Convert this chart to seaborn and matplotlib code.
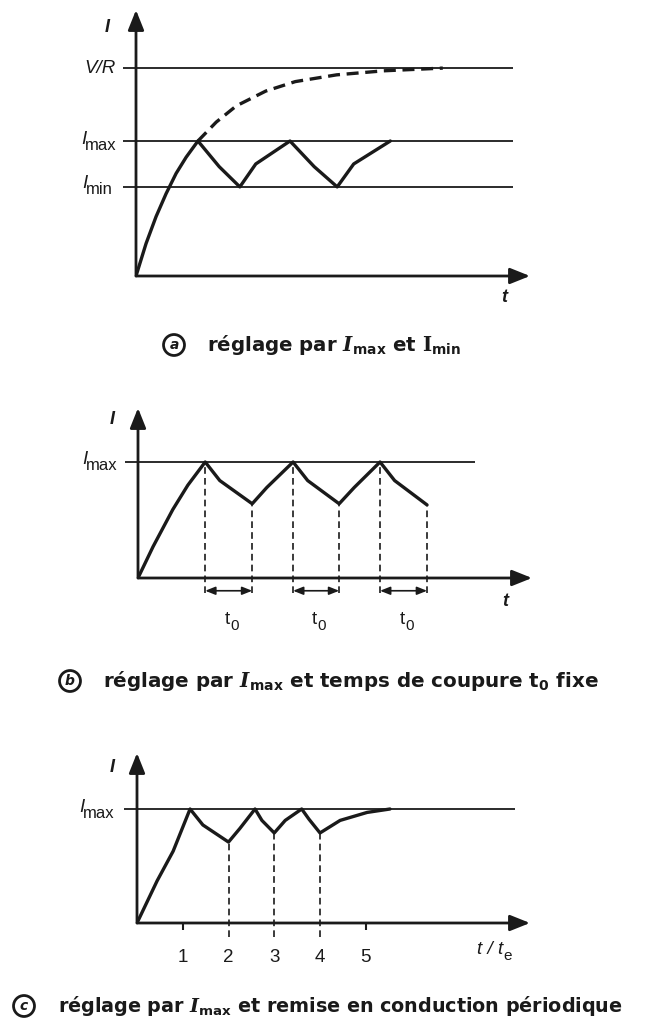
import matplotlib
matplotlib.use("Agg")
import matplotlib.pyplot as plt
import pandas as pd
import seaborn as sns

sns.set_theme(style="white")
plt.rcParams["font.family"] = ["Liberation Sans", "DejaVu Sans"]
plt.rcParams.update({
    "mathtext.fontset": "custom",
    "mathtext.rm": "DejaVu Sans:bold",
    "mathtext.bf": "DejaVu Sans:bold",
    "mathtext.it": "DejaVu Serif:italic:bold",
    "mathtext.tt": "DejaVu Serif:bold",
})
try:
    plt.rcParams["mathtext.bfit"] = "DejaVu Serif:italic:bold"
    BFIT = r"\mathbfit"
except KeyError:
    BFIT = r"\mathit"

INK = "#1a1a1a"
REF = "#2b2b2b"

# ---------------- data ----------------
# (a) hysteresis control between I_max and I_min (time in units of tau, current in units of I_max)
a_t = [0, 0.17, 0.34, 0.51, 0.68, 0.85, 1.05, 1.41, 1.76, 2.03, 2.61, 3.02, 3.41, 3.69, 4.31]
a_i = [0, 0.24, 0.44, 0.61, 0.76, 0.88, 1.00, 0.81, 0.66, 0.83, 1.00, 0.81, 0.66, 0.83, 1.00]
a_free_t = [1.05, 1.36, 1.70, 2.20, 2.70, 3.40, 4.20, 5.20]
a_free_i = [1.00, 1.14, 1.26, 1.37, 1.44, 1.49, 1.52, 1.54]
a_levels = [1.54, 1.00, 0.66]

# (b) I_max with fixed off-time t0 (time in units of t0)
b_t = [0, 0.32, 0.74, 1.06, 1.43, 1.74, 2.43, 2.74, 3.30, 3.61, 4.28, 4.60, 5.15, 5.46, 6.15]
b_i = [0, 0.27, 0.59, 0.80, 1.00, 0.84, 0.64, 0.78, 1.00, 0.84, 0.64, 0.78, 1.00, 0.84, 0.63]
b_switch_t = [1.43, 2.43, 3.30, 4.28, 5.15, 6.15]
b_switch_i = [1.00, 0.64, 1.00, 0.64, 1.00, 0.63]
b_level = 1.00

# (c) I_max with periodic turn-on (time in units of te)
c_t = [0, 0.44, 0.79, 1.16, 1.44, 2.00, 2.25, 2.58, 2.73, 3.00, 3.24, 3.60, 3.76, 4.00, 4.44, 5.03, 5.53]
c_i = [0, 0.37, 0.63, 1.00, 0.86, 0.71, 0.83, 1.00, 0.90, 0.79, 0.90, 1.00, 0.91, 0.79, 0.90, 0.97, 1.00]
c_on_t = [2, 3, 4]
c_on_i = [0.71, 0.79, 0.79]
c_ticks = [1, 2, 3, 4, 5]
c_tick_labels = ["1", "2", "3", "4", "5"]
c_level = 1.00

W, H = 646, 1025
fig = plt.figure(figsize=(W / 100, H / 100), dpi=100)
fig.patch.set_facecolor("white")


def panel(x0, y0, x1, y1, xunit, yunit):
    """Axes whose origin sits at pixel (x0, y0) with arrow tips at x1 / y1."""
    ax = fig.add_axes([x0 / W, 1 - y0 / H, (x1 - x0) / W, (y0 - y1) / H])
    ax.set_xlim(0, (x1 - x0) / xunit)
    ax.set_ylim(0, (y0 - y1) / yunit)
    ax.axis("off")
    arrow = dict(arrowstyle="-|>,head_length=0.55,head_width=0.22", lw=2.0,
                 color=INK, shrinkA=0, shrinkB=0, mutation_scale=22)
    ax.annotate("", xy=(ax.get_xlim()[1], 0), xytext=(0, 0), arrowprops=arrow,
                annotation_clip=False)
    ax.annotate("", xy=(0, ax.get_ylim()[1]), xytext=(0, 0), arrowprops=arrow,
                annotation_clip=False)
    return ax


def curve(ax, t, i, **kw):
    df = pd.DataFrame({"t": t, "i": i})
    sns.lineplot(data=df, x="t", y="i", ax=ax, sort=False, estimator=None,
                 color=INK, lw=2.4, **kw)


def level_label(ax, level, sub, dx, dy=-4, size=13.5, subsize=12):
    s = ax.annotate(sub, xy=(0, level), xytext=(dx, dy), textcoords="offset pixels",
                    ha="right", va="center", fontsize=subsize, color=INK,
                    annotation_clip=False)
    ax.annotate("I", xy=(0, 0.5), xycoords=s, xytext=(1, 6),
                textcoords="offset pixels", ha="right", va="center",
                fontsize=size, style="italic", color=INK)


def axis_letter(ax, text, corner, dx, dy, size=13):
    xy = (0, ax.get_ylim()[1]) if corner == "y" else (ax.get_xlim()[1], 0)
    return ax.annotate(text, xy=xy, xytext=(dx, dy), textcoords="offset pixels",
                       ha="center", va="center", fontsize=size, style="italic",
                       weight="bold", color=INK, annotation_clip=False)


def sub_after(main, sub, size=11):
    main.axes.annotate(sub, xy=(1, 0.15), xycoords=main, xytext=(0.5, 0),
                       textcoords="offset pixels", ha="left", va="center",
                       fontsize=size, color=INK)


# ---------------- (a) ----------------
ax = panel(136, 276, 530, 10, 59, 135)
x_stub = -13 / 59
ax.hlines(a_levels, x_stub, 377 / 59, color=REF, lw=1.4, clip_on=False)
curve(ax, a_free_t, a_free_i, linestyle=(0, (3.6, 2.0)))
curve(ax, a_t, a_i)
ax.annotate("V/R", xy=(0, a_levels[0]), xytext=(-20, 0), textcoords="offset pixels",
            ha="right", va="center", fontsize=13.5, style="italic", color=INK,
            annotation_clip=False)
level_label(ax, a_levels[1], "max", -19, dy=-4)
level_label(ax, a_levels[2], "min", -23, dy=-3)
axis_letter(ax, "I", "y", -29, -17)
axis_letter(ax, "t", "x", -26, -22)

# ---------------- (b) ----------------
ax = panel(138, 578, 532, 408, 47, 116)
ax.hlines([b_level], -13 / 47, 337 / 47, color=REF, lw=1.4, clip_on=False)
ax.vlines(b_switch_t, -0.13, b_switch_i, color=INK, lw=1.2,
          linestyles=(0, (4, 2.5)), clip_on=False)
curve(ax, b_t, b_i)
for t_off, t_on in zip(b_switch_t[0::2], b_switch_t[1::2]):
    ax.annotate("", xy=(t_on, -0.11), xytext=(t_off, -0.11),
                arrowprops=dict(arrowstyle="<|-|>,head_length=0.5,head_width=0.2",
                                lw=1.2, color=INK, shrinkA=0, shrinkB=0,
                                mutation_scale=12),
                annotation_clip=False)
    m = ax.annotate("t", xy=((t_off + t_on) / 2, 0), xytext=(1, -42),
                    textcoords="offset pixels", ha="right", va="center",
                    fontsize=13.5, color=INK, annotation_clip=False)
    sub_after(m, "0")
level_label(ax, b_level, "max", -20, dy=-4)
axis_letter(ax, "I", "y", -26, -12)
axis_letter(ax, "t", "x", -27, -24)

# ---------------- (c) ----------------
ax = panel(137, 923, 530, 753, 45.75, 114)
ax.hlines([c_level], -13 / 45.75, 378 / 45.75, color=REF, lw=1.4, clip_on=False)
ax.vlines(c_on_t, -0.12, c_on_i, color=INK, lw=1.2,
          linestyles=(0, (4, 2.5)), clip_on=False)
ax.vlines([c_ticks[0], c_ticks[-1]], -0.06, 0, color=INK, lw=1.5, clip_on=False)
curve(ax, c_t, c_i)
for tk, lab in zip(c_ticks, c_tick_labels):
    ax.annotate(lab, xy=(tk, 0), xytext=(0, -35), textcoords="offset pixels",
                ha="center", va="center", fontsize=13.5, color=INK,
                annotation_clip=False)
level_label(ax, c_level, "max", -22, dy=-4)
axis_letter(ax, "I", "y", -25, -14)
m = ax.annotate("t / t", xy=(ax.get_xlim()[1], 0), xytext=(-27, -27),
                textcoords="offset pixels", ha="right", va="center",
                fontsize=13.5, style="italic", color=INK, annotation_clip=False)
sub_after(m, "e", size=11)

# ---------------- captions ----------------
IMAX = r"$" + BFIT + r"{I}_{\mathbf{max}}$"
captions = [
    ("a", 174, 345, 207, 14.2, "réglage par " + IMAX + r" et $\mathtt{I}_{\mathbf{min}}$"),
    ("b", 70, 681, 103, 14.3, "réglage par " + IMAX + r" et temps de coupure $\mathbf{t}_{\mathbf{0}}$ fixe"),
    ("c", 24, 1006, 58, 13.8, "réglage par " + IMAX + " et remise en conduction périodique"),
]
for letter, cx, cy, tx, size, text in captions:
    fig.text(cx / W, 1 - cy / H, letter, ha="center", va="center", fontsize=10,
             style="italic", weight="bold", color=INK, family="DejaVu Sans",
             bbox=dict(boxstyle="circle,pad=0.25", fc="white", ec=INK, lw=2.0))
    fig.text(tx / W, 1 - cy / H, text, ha="left", va="center", fontsize=size,
             weight="bold", color=INK, family="DejaVu Sans")

fig.savefig("out.png", dpi=100, facecolor="white")
